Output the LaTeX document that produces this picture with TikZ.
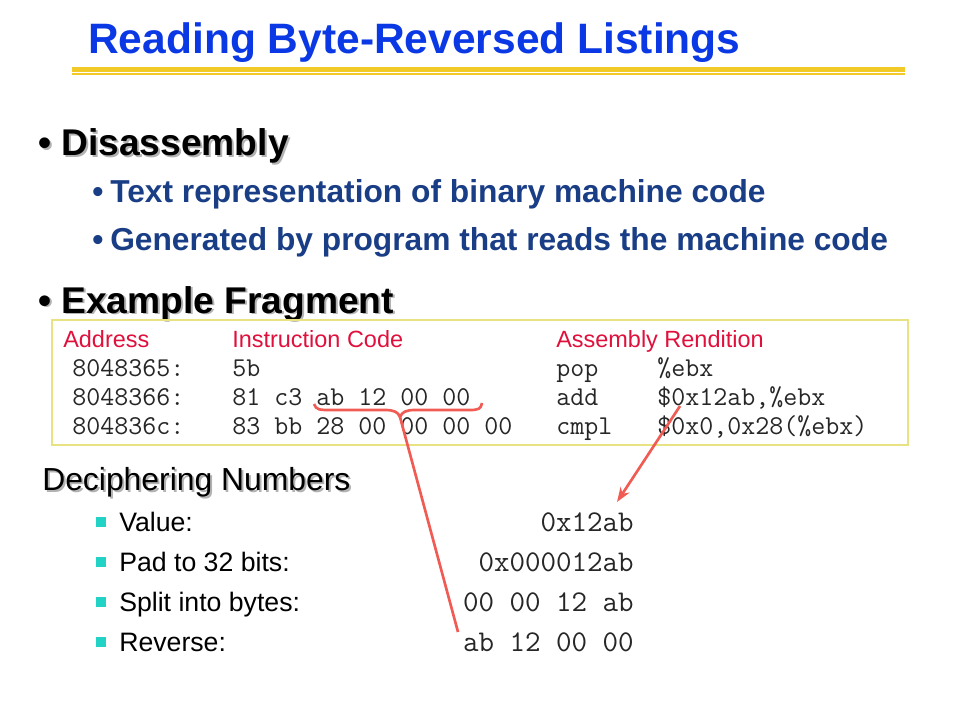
\documentclass[tikz,border=0pt]{standalone}
\usepackage{fontspec}
\setmainfont{Liberation Sans}
\usetikzlibrary{arrows.meta}
\definecolor{titleblue}{RGB}{10,56,228}
\definecolor{subblue}{RGB}{26,62,134}
\definecolor{hdrred}{RGB}{224,16,60}
\definecolor{ruleyellow}{RGB}{242,202,40}
\definecolor{boxyellow}{RGB}{232,226,130}
\definecolor{arrowred}{RGB}{240,92,84}
\definecolor{teal}{RGB}{34,210,196}
\newcommand{\shadowtext}[1]{\rlap{\kern1.5pt\raisebox{-1.5pt}{\textcolor{black!30}{#1}}}#1}
\tikzset{
  txt/.style={inner sep=0pt, anchor=base west},
  title/.style={txt, text=titleblue, font=\fontsize{31.9pt}{36pt}\selectfont\bfseries},
  lvlone/.style={txt, text=black, font=\fontsize{27.9pt}{32pt}\selectfont\bfseries},
  lvltwo/.style={txt, text=subblue, font=\fontsize{23.8pt}{28pt}\selectfont\bfseries},
  hdr/.style={txt, text=hdrred, font=\fontsize{17.6pt}{20pt}\selectfont},
  code/.style={txt, text=black!85, font=\fontsize{20.4pt}{24pt}\selectfont\ttfamily},
  deci/.style={txt, text=black, font=\fontsize{23.9pt}{28pt}\selectfont},
  item/.style={txt, text=black, font=\fontsize{20pt}{24pt}\selectfont},
  val/.style={inner sep=0pt, anchor=base east, text=black!85, font=\fontsize{22.6pt}{26pt}\selectfont\ttfamily},
  sq/.style={fill=teal, draw=none, minimum size=7.5pt, inner sep=0pt},
  pointer/.style={draw=arrowred, line width=2pt},
}
\begin{document}
\begin{tikzpicture}[x=0.75pt,y=-0.75pt]
\useasboundingbox (0,0) rectangle (960,720);
% title
\node[title] (ttl) at (88,54) {Reading Byte-Reversed Listings};
\fill[ruleyellow] (72,67.5) rectangle (905,72);
\fill[ruleyellow] (72,73.5) rectangle (905,75);
% Disassembly
\node[lvlone] (dis) at (38,156) {\shadowtext{\textbullet\hspace{7.5pt}Disassembly}};
\node[lvltwo] (b2) at (92,203) {\textbullet};
\node[lvltwo] (t1) at (110,203) {Text representation of binary machine code};
\node[lvltwo] (b3) at (92,251) {\textbullet};
\node[lvltwo] (t2) at (110,251) {Generated by program that reads the machine code};
% Example fragment
\node[lvlone] (ex) at (38,313) {\shadowtext{\textbullet\hspace{7.5pt}Example Fragment}};
\draw[boxyellow, line width=1.5pt] (52,320) rectangle (908,445);
\node[hdr] (h1) at (63,347) {Address};
\node[hdr] (h2) at (232,347) {Instruction Code};
\node[hdr] (h3) at (556,347) {Assembly Rendition};
\node[code] (a1) at (72,376) {8048365:};
\node[code] (c1) at (232,376) {5b};
\node[code] (m1) at (556,376) {pop};
\node[code] (o1) at (657,376) {\%ebx};
\node[code] (a2) at (72,405) {8048366:};
\node[code] (c2) at (232,405) {81 c3 ab 12 00 00};
\node[code] (m2) at (556,405) {add};
\node[code] (o2) at (657,405) {\$0x12ab,\%ebx};
\node[code] (a3) at (72,434) {804836c:};
\node[code] (c3) at (232,434) {83 bb 28 00 00 00 00};
\node[code] (m3) at (556,434) {cmpl};
\node[code] (o3) at (657,434) {\$0x0,0x28(\%ebx)};
% Deciphering numbers
\node[deci] (dn) at (42,490) {\shadowtext{Deciphering Numbers}};
\node[sq] (s1) at (101,522) {};
\node[sq] (s2) at (101,562) {};
\node[sq] (s3) at (101,602) {};
\node[sq] (s4) at (101,642) {};
\node[item] (i1) at (119,531) {Value:};
\node[item] (i2) at (119,571) {Pad to 32 bits:};
\node[item] (i3) at (119,611) {Split into bytes:};
\node[item] (i4) at (119,651) {Reverse:};
\node[val] (v1) at (634,531) {0x12ab};
\node[val] (v2) at (634,571) {0x000012ab};
\node[val] (v3) at (634,611) {00 00 12 ab};
\node[val] (v4) at (634,651) {ab 12 00 00};
% brace and pointers
\coordinate (bt) at (400,417);
\coordinate (revend) at (458,632);
\coordinate (opstart) at (680,406);
\coordinate (valtop) at (617,502);
\draw[pointer] (314,404) .. controls (316,410) and (320,410) .. (330,410) -- (385,410)
  .. controls (394,410) and (398,412) .. (bt)
  .. controls (402,412) and (406,410) .. (415,410) -- (470,410)
  .. controls (478,410) and (481,409) .. (482,403);
\draw[pointer] (bt) -- (revend);
\draw[pointer, -{Stealth[length=11pt,width=8pt]}] (opstart) -- (valtop);
\end{tikzpicture}
\end{document}
